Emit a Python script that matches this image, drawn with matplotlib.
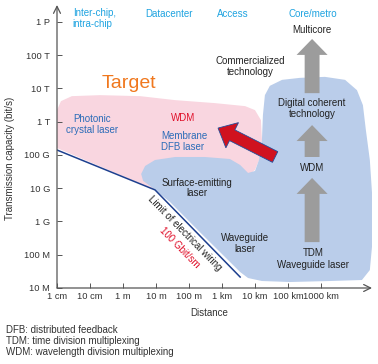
import numpy as np
import matplotlib
matplotlib.use("Agg")
import matplotlib.pyplot as plt

plt.rcParams['font.family'] = ['Liberation Sans', 'DejaVu Sans']

# axes are in log10 units: x = log10(distance in m), y = log10(capacity in bit/s)
x_ticks = [-2, -1, 0, 1, 2, 3, 4, 5, 6]
x_labels = ["1 cm", "10 cm", "1 m", "10 m", "100 m", "1 km", "10 km", "100 km", "1000 km"]
y_ticks = [7, 8, 9, 10, 11, 12, 13, 14, 15]
y_labels = ["10 M", "100 M", "1 G", "10 G", "100 G", "1 T", "10 T", "100 T", "1 P"]

# application areas along the top
areas = ["Inter-chip,\nintra-chip", "Datacenter", "Access", "Core/metro"]
area_x = [-1.52, 1.39, 3.33, 5.76]

# limit of electrical wiring (100 Gbit/s*m)
wiring_x = [-2.0, 0.97, 3.55]
wiring_y = [11.15, 9.95, 7.33]

# target region (pink)
target_x = [-2.0, -2.0, -1.88, -1.55, -0.70, 0.52, 1.58, 2.79, 3.70, 4.00, 4.18,
            4.21, 4.15, 4.00, 3.70, 2.33, 0.97]
target_y = [11.21, 12.35, 12.62, 12.77, 12.80, 12.77, 12.65, 12.56, 12.47, 12.35, 12.05,
            11.45, 10.91, 10.55, 10.31, 10.10, 9.95]

# commercialized technology region (blue)
comm_x = [4.30, 4.45, 4.82, 5.36, 6.12, 6.73, 7.09, 7.27, 7.36, 7.48, 7.55, 7.55, 7.48,
          7.24, 6.27, 5.06, 4.21, 3.79, 3.55, 2.33, 1.42, 0.82, 0.61, 0.55, 0.67, 0.97,
          1.58, 2.48, 3.24, 3.55, 3.79, 4.00, 4.12, 4.21, 4.24]
comm_y = [12.80, 13.08, 13.26, 13.32, 13.35, 13.26, 12.95, 12.50, 11.75, 10.85, 9.80,
          8.29, 7.54, 7.24, 7.21, 7.18, 7.21, 7.30, 7.48, 8.68, 9.59, 10.07, 10.22, 10.43,
          10.67, 10.85, 10.94, 10.94, 10.88, 10.70, 10.46, 10.52, 10.85, 11.45, 12.20]

# gray progress arrows (TDM -> WDM -> digital coherent -> multicore)
step_x = 5.73
step_tail = [8.38, 10.94, 12.86]
step_tip = [10.31, 11.90, 14.49]

# red arrow toward target
red_tail = (4.61, 10.94)
red_tip = (2.88, 11.81)

blue_txt = "#2b6cb8"
area_txt = "#1ea3e0"
dark = "#222222"

fig = plt.figure(figsize=(3.78, 3.64), dpi=100)
ax = fig.add_axes([57 / 378, 1 - 288 / 364, 315 / 378, 283 / 364])
ax.set_xlim(-2, -2 + 315 / 33)
ax.set_ylim(7, 7 + 283 / 33.25)

ax.fill(target_x, target_y, color="#f9d6e0", lw=0, zorder=1)
ax.fill(comm_x, comm_y, color="#bacdea", lw=0, zorder=2)
ax.plot(wiring_x, wiring_y, color="#1d3f8f", lw=1.1, zorder=3)

for t0, t1 in zip(step_tail, step_tip):
    ax.arrow(step_x, t0, 0, t1 - t0, width=0.45, head_width=0.94, head_length=0.48,
             length_includes_head=True, fc="#9c9c9c", ec="none", zorder=4)

ax.arrow(red_tail[0], red_tail[1], red_tip[0] - red_tail[0], red_tip[1] - red_tail[1],
         width=0.36, head_width=0.85, head_length=0.48, length_includes_head=True,
         fc="#d0121f", ec="#1f4e9c", lw=0.6, zorder=4)

fs = 7.0
ax.text(area_x[0], 15.11, areas[0], color=area_txt, fontsize=fs, ha="left", va="center",
        linespacing=1.1)
for lab, x in zip(areas[1:], area_x[1:]):
    ax.text(x, 15.24, lab, color=area_txt, fontsize=fs, ha="center", va="center")

ax.text(5.73, 14.76, "Multicore", color=dark, fontsize=fs, ha="center", va="center")
ax.text(3.85, 13.66, "Commercialized\ntechnology", color=dark, fontsize=fs,
        ha="center", va="center", linespacing=1.1)
ax.text(0.17, 13.15, "Target", color="#f0781e", fontsize=14, ha="center", va="center")
ax.text(-0.95, 11.92, "Photonic\ncrystal laser", color=blue_txt, fontsize=fs,
        ha="center", va="center", linespacing=1.1)
ax.text(1.82, 12.11, "WDM", color="#e0102a", fontsize=fs, ha="center", va="center")
ax.text(1.15, 11.41, "Membrane\nDFB laser", color=blue_txt, fontsize=fs,
        ha="left", va="center", linespacing=1.1)
ax.text(5.73, 12.40, "Digital coherent\ntechnology", color=dark, fontsize=fs,
        ha="center", va="center", linespacing=1.1)
ax.text(5.73, 10.61, "WDM", color=dark, fontsize=fs, ha="center", va="center")
ax.text(5.76, 7.86, "TDM\nWaveguide laser", color=dark, fontsize=fs,
        ha="center", va="center", linespacing=1.25)
ax.text(3.71, 8.34, "Waveguide\nlaser", color=dark, fontsize=fs,
        ha="center", va="center", linespacing=1.1)
ax.text(2.23, 10.01, "Surface-emitting\nlaser", color=dark, fontsize=fs,
        ha="center", va="center", linespacing=1.1)
ax.text(1.88, 8.64, "Limit of electrical wiring", color=dark, fontsize=fs,
        ha="center", va="center", rotation=-45.5, rotation_mode="anchor")
ax.text(1.70, 8.20, "100 Gbit/sm", color="#e0102a", fontsize=fs,
        ha="center", va="center", rotation=-45.5, rotation_mode="anchor")

for s in ax.spines.values():
    s.set_visible(False)
arrow_kw = dict(arrowstyle="->,head_length=0.5,head_width=0.25", color="#555555",
                lw=0.9, shrinkA=0, shrinkB=0)
ax.annotate("", xy=(0, 1), xytext=(0, 0), xycoords="axes fraction", arrowprops=arrow_kw)
ax.annotate("", xy=(1, 0), xytext=(0, 0), xycoords="axes fraction", arrowprops=arrow_kw)

ax.set_xticks(x_ticks)
ax.set_xticklabels(x_labels)
ax.set_yticks(y_ticks)
ax.set_yticklabels(y_labels)
ax.tick_params(direction="in", length=3.5, width=0.7, color="#555555",
               labelsize=6.7, labelcolor="#333333")
ax.tick_params(axis="y", pad=5)
ax.tick_params(axis="x", pad=3)

fig.text(209 / 378, 1 - 313 / 364, "Distance", fontsize=fs, color="#333333",
         ha="center", va="center")
fig.text(10 / 378, 1 - 158 / 364, "Transmission capacity (bit/s)", fontsize=fs,
         color="#333333", ha="center", va="center", rotation=90)

notes = ["DFB: distributed feedback", "TDM: time division multiplexing",
         "WDM: wavelength division multiplexing"]
for i, n in enumerate(notes):
    fig.text(6 / 378, 1 - (330 + 11 * i) / 364, n, fontsize=fs, color="#333333",
             ha="left", va="center")

fig.savefig("out.png", dpi=100)
